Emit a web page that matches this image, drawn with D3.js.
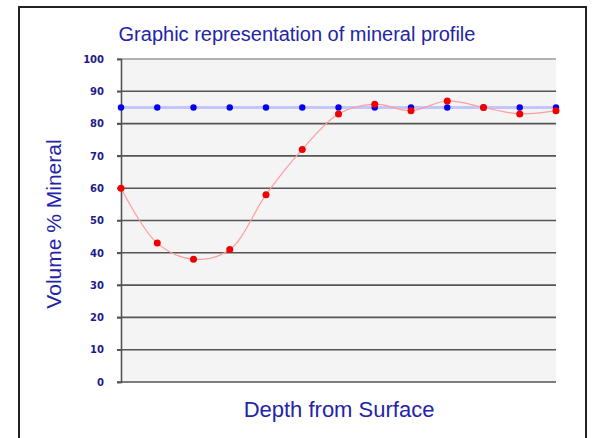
<!DOCTYPE html>
<html>
<head>
<meta charset="utf-8">
<script src="https://cdn.jsdelivr.net/npm/d3@7"></script>
<style>
  body { margin: 0; background: #fff; }
  text { font-family: Arial, "Liberation Sans", sans-serif; }
</style>
</head>
<body>
<div id="chart"></div>
<script>
// data
var depths = ["1","2","3","4","5","6","7","8","9","10","11","12","13"];
var mineral = [60, 43, 38, 41, 58, 72, 83, 86, 84, 87, 85, 83, 84];
var reference = [85, 85, 85, 85, 85, 85, 85, 85, 85, 85, 85, 85, 85];
var yTicks = [0, 10, 20, 30, 40, 50, 60, 70, 80, 90, 100];

var W = 592, H = 438;
var margin = {top: 59, right: 36, bottom: 56, left: 121},
    width = W - margin.left - margin.right,
    height = H - margin.top - margin.bottom;

var svg = d3.select("#chart")
  .append("svg")
    .attr("width", W)
    .attr("height", H);

// outer frame
svg.append("rect")
  .attr("x", 19).attr("y", 7)
  .attr("width", 567).attr("height", 440)
  .attr("fill", "#fff")
  .attr("stroke", "#222")
  .attr("stroke-width", 2);

var g = svg.append("g")
  .attr("transform", "translate(" + margin.left + "," + margin.top + ")");

var x = d3.scalePoint()
  .domain(depths)
  .range([0, width]);

var y = d3.scaleLinear()
  .domain([0, 100])
  .range([height, 0]);

// plot area
g.append("rect")
  .attr("width", width)
  .attr("height", height)
  .attr("fill", "#f4f4f4");

// grid lines
g.selectAll(".grid")
  .data(yTicks)
  .enter().append("line")
    .attr("x1", -4)
    .attr("x2", width)
    .attr("y1", function(d) { return y(d); })
    .attr("y2", function(d) { return y(d); })
    .attr("stroke", function(d) { return d == 100 ? "#9a9a9a" : "#555"; })
    .attr("stroke-width", 1.6);

// y axis
var yAxis = g.append("g")
  .call(d3.axisLeft(y).tickValues(yTicks).tickSize(4).tickPadding(13));
yAxis.select(".domain").attr("stroke", "#555").attr("stroke-width", 1.6);
yAxis.selectAll(".tick line").attr("stroke", "#555").attr("stroke-width", 1.6);
yAxis.selectAll("text")
  .style("font-family", "'DejaVu Sans', Verdana, sans-serif")
  .style("font-size", "10px")
  .style("font-weight", "bold")
  .attr("fill", "#1c1c8a");

// reference line (blue)
g.append("path")
  .datum(reference)
  .attr("fill", "none")
  .attr("stroke", "#c4c4ff")
  .attr("stroke-width", 3)
  .attr("d", d3.line()
    .x(function(d, i) { return x(depths[i]); })
    .y(function(d) { return y(d); }));

// mineral line (red, smoothed)
g.append("path")
  .datum(mineral)
  .attr("fill", "none")
  .attr("stroke", "#ff9c9c")
  .attr("stroke-width", 1.2)
  .attr("d", d3.line()
    .curve(d3.curveCatmullRom)
    .x(function(d, i) { return x(depths[i]); })
    .y(function(d) { return y(d); }));

g.selectAll(".blue")
  .data(reference)
  .enter().append("circle")
    .attr("cx", function(d, i) { return x(depths[i]); })
    .attr("cy", function(d) { return y(d); })
    .attr("r", 3.2)
    .attr("fill", "#0000f0");

g.selectAll(".red")
  .data(mineral)
  .enter().append("circle")
    .attr("cx", function(d, i) { return x(depths[i]); })
    .attr("cy", function(d) { return y(d); })
    .attr("r", 3.5)
    .attr("fill", "#f00000");

// titles
svg.append("text")
  .attr("x", 297).attr("y", 41)
  .attr("text-anchor", "middle")
  .style("font-size", "20px")
  .attr("fill", "#2424a8")
  .text("Graphic representation of mineral profile");

svg.append("text")
  .attr("x", 339).attr("y", 417)
  .attr("text-anchor", "middle")
  .style("font-size", "22px")
  .attr("fill", "#2424a8")
  .text("Depth from Surface");

svg.append("text")
  .attr("transform", "translate(61,224) rotate(-90)")
  .attr("text-anchor", "middle")
  .style("font-size", "21px")
  .attr("fill", "#2424a8")
  .text("Volume % Mineral");
</script>
</body>
</html>
